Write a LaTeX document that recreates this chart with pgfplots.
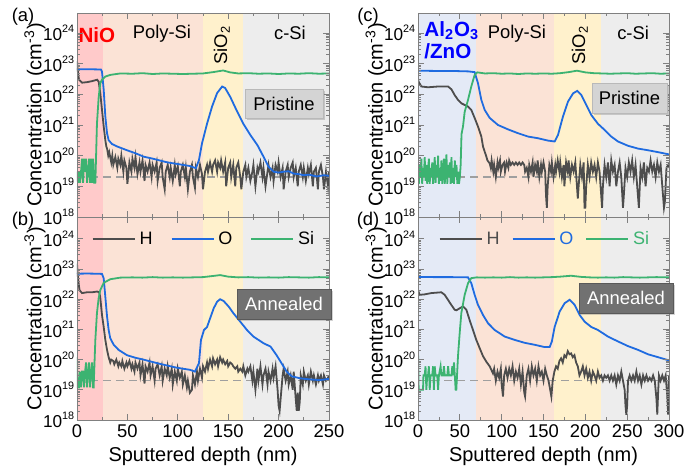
\documentclass[border=0pt]{standalone}
\usepackage{fontspec}
\setmainfont{Liberation Sans}
\usepackage{pgfplots}
\pgfplotsset{compat=1.18}
\usetikzlibrary{shadows}

\definecolor{hcol}{HTML}{4D4D4D}
\definecolor{ocol}{HTML}{1F6BE0}
\definecolor{sicol}{HTML}{3CB371}
\definecolor{niobg}{HTML}{FFCACA}
\definecolor{polybg}{HTML}{FBE3D6}
\definecolor{oxbg}{HTML}{FFF1CC}
\definecolor{csibg}{HTML}{EDEDED}
\definecolor{albg}{HTML}{E4EAF6}
\definecolor{boxlt}{HTML}{D4D4D4}
\definecolor{boxdk}{HTML}{717171}

% small raised exponent for the tick labels
\newcommand{\tsup}[1]{\raisebox{4.2pt}{\fontsize{5.4}{6}\selectfont #1}}

\pgfkeys{/pgf/number format/assume math mode=true}
\tikzset{reg/.style={font=\fontsize{9.2}{11}\selectfont}}
\pgfplotsset{
  every axis/.append style={
    scale only axis, anchor=south west,
    ymin=1e18, xmin=0,
    axis on top,
    ytick={1e18,1e19,1e20,1e21,1e22,1e23,1e24},
    yticklabels={10\tsup{18},10\tsup{19},10\tsup{20},10\tsup{21},10\tsup{22},10\tsup{23},10\tsup{24}},
    minor x tick num=1,
    axis line style={gray},
    every tick/.style={gray},
    major tick length=3pt, minor tick length=1.6pt,
    yticklabel style={font=\fontsize{8.6}{10}\selectfont, inner xsep=1.2pt},
    xticklabel style={font=\fontsize{9.2}{10}\selectfont, inner ysep=2.3pt},
    label style={font=\fontsize{9.3}{11}\selectfont},
    every axis y label/.style={at={(axis description cs:-0.167,0.5)}, rotate=90, anchor=center},
    every axis x label/.style={at={(axis description cs:0.5,0)}, anchor=center, yshift=-18.3pt},
    ylabel={Concentration (cm\textsuperscript{-3})},
    every axis plot/.append style={line width=0.9pt},
    legend image code/.code={\draw[##1] (0pt,0pt) -- (21pt,0pt);},
  },
}

\begin{document}
\begin{tikzpicture}
\useasboundingbox (0,0) rectangle (348.5pt,235pt);

% ---------------- (a) NiO pristine
\begin{axis}[ymode=log, at={(38.5pt,126.5pt)}, width=126pt, height=102pt,
  xmax=250, ymax=4.5e24, xtick={0,50,...,250}, xticklabel=\empty]
\fill[niobg] (axis cs:0,1e18) rectangle (axis cs:26,4.5e24);
\fill[polybg] (axis cs:26,1e18) rectangle (axis cs:125,4.5e24);
\fill[oxbg] (axis cs:125,1e18) rectangle (axis cs:165,4.5e24);
\fill[csibg] (axis cs:165,1e18) rectangle (axis cs:250,4.5e24);
\draw[gray!75, line width=0.6pt, dash pattern=on 4pt off 2.5pt] (axis cs:0,2e19) -- (axis cs:250,2e19);
\addplot[hcol] coordinates {
(0,1.2e23) (1,5e22) (2,3e22) (5,2.4e22) (10,2.5e22) (15,2.7e22) (20,3e22) (21.5,2.6e22) (23.1,1.1e22) (24.8,3.1e21) (26.5,8.9e20) (28.1,3.2e20) (29.1,2e20)
(30,1.6e20) (31,1e20) (32,1.3e20) (34,6e19) (35,1e20) (36,5e19) (38,9e19) (40,4e19) (41,8e19) (43,5e19) (44,1e20) (46,3e19) (47,7e19) (49,4e19) (50,1.2e19) (52,6e19) (54,3e19) (55,8e19) (57,4e19) (58,9e19) (60,2.5e19) (62,6e19) (63,3e19) (65,7e19) (67,1.5e19) (68,5e19) (70,3e19) (72,6e19) (74,2e19) (75,5e19) (77,3e19) (79,6e19) (80,1.5e19) (82,4e19) (84,6e19) (85,2e19) (87,8e18) (88,3e19) (90,5e19) (92,2e19) (93,4e19) (95,1.5e19) (97,5e19) (98,2.5e19) (100,4.5e19) (102,1e19) (103,3e19) (105,5e19) (107,2e19) (108,4e19) (110,8e18) (112,3e19) (114,5e19) (115,2e19) (117,9e18) (118,4e19) (120,2e19) (122,5e19) (124,2.5e19) (125,8e18) (127,3e19) (129,5e19) (130,3e19) (132,6e19) (134,3e19) (135,5e19) (137,7e19) (139,3e19) (140,6e19) (142,4e19) (143,7e19) (145,3e19) (147,6e19) (148,1e19) (150,4e19) (152,6e19) (153,2e19) (155,5e19) (157,1e19) (158,4e19) (160,6e19) (162,2e19) (163,8e18) (165,3e19) (167,5e19) (168,2e19) (170,4e19) (172,1.5e19) (174,3e19) (175,5e19) (177,1e19) (179,4e19) (180,3e19) (182,6e19) (184,2e19) (185,4e19) (187,1e19) (189,3e19) (190,5e19) (192,2e19) (194,4e19) (195,1.5e19) (197,5e19) (199,3e19) (200,6e19) (202,2e19) (204,4e19) (205,8e18) (207,3e19) (209,5e19) (210,2e19) (212,4e19) (214,6e19) (215,2e19) (217,4e19) (219,1e19) (220,3e19) (222,5e19) (224,2e19) (225,4e19) (227,1.5e19) (229,4e19) (230,2.5e19) (232,5e19) (234,1e19) (235,3e19) (237,4e19) (239,8e18) (240,3e19) (242,5e19) (244,2e19) (245,8e18) (247,3e19) (249,1e19) (250,3e19)
};
\addplot[ocol] coordinates {
(0,6.6e22) (10,6.6e22) (20,6.5e22) (23.8,6.4e22) (24.8,5.5e22) (26.5,1.4e22) (28.1,1.9e21) (29.8,5.4e20) (31.4,3.2e20) (34.7,2.4e20) (39.7,2e20) (49.6,1.5e20) (58,1.2e20) (66,9.3e19) (75,8e19) (82.7,6.9e19) (90,6e19) (99,5.4e19) (105,5e19) (112,4.6e19) (118,3.9e19) (121,7.2e19) (124,2.5e20) (129,1.1e21) (134,4e21) (139,1.1e22) (144,1.8e22) (147,1.6e22) (152,8.3e21) (159,2.7e21) (165,1.1e21) (172,4.7e20) (179,2.2e20) (185,9.3e19) (190,4.4e19) (195,3e19) (200,2.8e19) (205,3e19) (210,3.1e19) (215,2.6e19) (220,2.5e19) (225,2.3e19) (230,2.4e19) (238,2.1e19) (245,2.3e19) (250,2.2e19)
};
\addplot[sicol] coordinates {
(0,3e19) (1,1.3e19) (2,3e19) (3,1.3e19) (4,3e19) (5,8e19) (6,1.3e19) (7,8e19) (8,3e19) (9,8e19) (10,1.3e19) (11,3e19) (12,8e19) (13,1.3e19) (14,8e19) (15,1.3e19) (16,8e19) (17,1.3e19) (18.2,1.3e19) (19.8,1.1e21) (21.5,8e21) (23.1,2.3e22) (24.8,3e22) (28.1,3.8e22) (33,4.3e22) (43,4.8e22) (55,4.7e22) (65,4.9e22) (75,4.6e22) (85,4.8e22) (95,4.7e22) (105,4.6e22) (115,4.7e22) (125,4.8e22) (135,5.3e22) (145,6e22) (152,5.2e22) (160,4.8e22) (170,4.9e22) (180,4.7e22) (190,4.8e22) (200,4.6e22) (210,4.8e22) (220,4.7e22) (230,4.9e22) (240,4.7e22) (250,4.8e22)
};
\node[red, font=\fontsize{10.3}{12}\selectfont\bfseries] at (rel axis cs:0.079,0.89) {NiO};
\node[reg] at (rel axis cs:0.337,0.90) {Poly-Si};
\node[reg, rotate=90] at (rel axis cs:0.575,0.843) {SiO\textsubscript{2}};
\node[reg] at (rel axis cs:0.845,0.90) {c-Si};
\end{axis}

% ---------------- (b) NiO annealed
\begin{axis}[ymode=log, at={(38.5pt,25pt)}, width=126pt, height=101.5pt,
  xmax=250, ymax=5.3e24, xtick={0,50,...,250},
  xlabel={Sputtered depth (nm)},
  legend style={at={(0.508,0.89)}, anchor=center, draw=none, fill=none,
    font=\fontsize{9}{10}\selectfont,
    legend columns=-1, /tikz/every even column/.append style={column sep=7pt}},
  legend entries={H,O,Si}]
\fill[niobg] (axis cs:0,1e18) rectangle (axis cs:26,5.3e24);
\fill[polybg] (axis cs:26,1e18) rectangle (axis cs:125,5.3e24);
\fill[oxbg] (axis cs:125,1e18) rectangle (axis cs:165,5.3e24);
\fill[csibg] (axis cs:165,1e18) rectangle (axis cs:250,5.3e24);
\draw[gray!75, line width=0.6pt, dash pattern=on 4pt off 2.5pt] (axis cs:0,2e19) -- (axis cs:250,2e19);
\addplot[hcol] coordinates {
(0,1.5e23) (1,5e22) (2.5,2e22) (5,1.6e22) (10,1.7e22) (15,1.7e22) (20,1.8e22) (22,1.7e22) (23,1.2e22) (24.8,3e21) (26.5,1.2e21) (28.1,4.5e20) (29.8,2.1e20) (31.4,1.2e20) (33,8e19) (34,1e20) (36,9e19) (37,7e19) (39,1e20) (41,6e19) (42,8e19) (44,6e19) (45,9e19) (47,5e19) (49,8e19) (50,6e19) (52,9e19) (54,5e19) (55,7e19) (57,4e19) (58,8e19) (60,5e19) (62,8e19) (63,3e19) (65,7e19) (67,1.6e19) (68,6e19) (70,4e19) (72,8e19) (73,3e19) (75,6e19) (77,2e19) (78,5e19) (80,7e19) (82,3e19) (84,6e19) (85,2e19) (87,5e19) (89,3e19) (90,6e19) (92,2.5e19) (94,5e19) (95,1.5e19) (97,4e19) (99,2e19) (100,5e19) (102,2.5e19) (104,4e19) (105,1.5e19) (107,3e19) (109,1.2e19) (110,2e19) (112,8e18) (114,1e19) (115,3e19) (117,1.5e19) (119,4e19) (120,2e19) (122,5e19) (124,2.5e19) (125,6e19) (127,4e19) (129,8e19) (130,5e19) (132,1e20) (134,6e19) (135,1.1e20) (137,7e19) (139,1e20) (140,6e19) (142,1.2e20) (144,8e19) (145,1e20) (147,7e19) (149,9e19) (150,6e19) (152,8e19) (154,7e19) (155,6e19) (157,5e19) (159,6e19) (160,4e19) (162,5e19) (164,4e19) (165,6e19) (167,3e19) (169,5e19) (170,4e19) (172,6e19) (174,2e19) (175,4e19) (177,1e19) (179,5e19) (180,2e19) (182,6e19) (184,1.5e19) (185,3e19) (187,5e19) (189,1.5e19) (190,4e19) (192,2e19) (194,5e19) (195,2.5e19) (197,6e19) (199,1e19) (200,3e18) (201,2e18) (202,5e18) (204,3e19) (205,5e19) (207,2e19) (209,4e19) (210,1.5e19) (212,3e19) (214,1e19) (215,4e19) (217,5e18) (218,2e18) (219,8e18) (220,2e18) (221,4e18) (222,3e19) (224,1.5e19) (225,4e19) (227,2e19) (229,3e19) (230,1.5e19) (232,4e19) (234,2e19) (235,3e19) (237,1.5e19) (239,3e19) (240,2e19) (242,3e19) (244,1.5e19) (245,3e19) (247,2e19) (249,2.5e19) (250,3e19)
};
\addplot[ocol] coordinates {
(0,7e22) (10,7.1e22) (20,7e22) (24.8,6.9e22) (26.5,4.9e22) (28.1,1.2e22) (29.8,2.7e21) (31.4,9.6e20) (33,5.1e20) (36.4,3.1e20) (41.3,2.1e20) (49.6,1.4e20) (58,1.15e20) (66,1e20) (74,8.5e19) (82.7,7.2e19) (90,6.3e19) (99,5.4e19) (105,5e19) (112,4.6e19) (117,4e19) (121,7.6e19) (123,4.5e20) (126,9.6e20) (129,1.2e21) (132,2.3e21) (135.6,5e21) (139,8.3e21) (142,1e22) (145.5,8.7e21) (150.5,5.7e21) (155,3.5e21) (162,1.8e21) (168.6,9.6e20) (175,5.8e20) (185,3.5e20) (192,2.7e20) (198,1.4e20) (203,7.5e19) (208,4e19) (213,2.8e19) (221.5,2.4e19) (231.5,2.2e19) (241,2.1e19) (250,2.3e19)
};
\addplot[sicol] coordinates {
(0,1.2e20) (0.7,1.2e19) (2,1.2e19) (3,4e19) (4,1.2e19) (5,4e19) (6,4e19) (7,1.2e19) (8,4e19) (9,8e19) (10,1.2e19) (11,4e19) (12,8e19) (13,1.2e19) (14,4e19) (15,8e19) (16,1.2e19) (16.5,1.2e19) (18.2,4.5e20) (19.8,3.5e21) (21.5,1.1e22) (23.1,2e22) (26.5,3.5e22) (33,4.6e22) (43,5.2e22) (55,5.3e22) (65,5.2e22) (75,5.4e22) (85,5.2e22) (95,5.3e22) (105,5.2e22) (115,5.3e22) (125,5.4e22) (135,5.9e22) (142,6.3e22) (150,5.6e22) (160,5.3e22) (170,5.4e22) (180,5.2e22) (190,5.3e22) (200,5.2e22) (210,5.4e22) (220,5.3e22) (230,5.2e22) (240,5.4e22) (250,5.3e22)
};
\end{axis}

% ---------------- (c) Al2O3/ZnO pristine
\begin{axis}[ymode=log, at={(209pt,126.5pt)}, width=125.5pt, height=102pt,
  xmax=300, ymax=4.5e24, xtick={0,50,...,300}, xticklabel=\empty]
\fill[albg] (axis cs:0,1e18) rectangle (axis cs:69,4.5e24);
\fill[polybg] (axis cs:69,1e18) rectangle (axis cs:162,4.5e24);
\fill[oxbg] (axis cs:162,1e18) rectangle (axis cs:219,4.5e24);
\fill[csibg] (axis cs:219,1e18) rectangle (axis cs:300,4.5e24);
\draw[gray!75, line width=0.6pt, dash pattern=on 4pt off 2.5pt] (axis cs:0,2e19) -- (axis cs:300,2e19);
\addplot[hcol] coordinates {
(0,3e22) (1,2.5e22) (4,1.8e22) (12,1.7e22) (24,1.8e22) (36,1.8e22) (40,1.45e22) (43.8,9.5e21) (47.8,6.6e21) (51.8,5.1e21) (55.8,4.5e21) (59.8,4e21) (63.7,3.1e21) (67.7,1.7e21) (71.7,8.9e20) (75.7,4.2e20) (77.7,2e20) (79.7,1.35e20) (81.7,9.3e19) (83,7e19) (85.7,5.6e19) (87,4e19) (88,7e19) (90,3e19) (91,5e19) (93,2e19) (95,6e19) (96,4e19) (98,7e19) (99,3e19) (101,5e19) (103,6e19) (104,3e19) (106,6e19) (108,4e19) (109,7e19) (111,5e19) (113,6e19) (115,5e19) (117,6e19) (119,5e19) (121,6e19) (123,5e19) (125,6e19) (127,5e19) (128,3e19) (130,4e19) (132,2e19) (133,5e19) (135,3e19) (137,6e19) (138,2e19) (140,5e19) (142,3e19) (143,7e19) (145,2e19) (147,5e19) (148,3e19) (150,6e19) (152,3e19) (153,5e18) (154,2e18) (155,1e19) (157,5e19) (159,3e19) (160,6e19) (162,2e19) (164,5e19) (165,3e19) (167,7e19) (169,3e19) (170,6e19) (172,2e19) (174,5e19) (175,1e19) (177,6e19) (179,3e19) (180,7e19) (182,2e19) (184,5e19) (186,3e19) (188,6e19) (190,1e19) (191,4e18) (192,1e19) (194,5e19) (196,2e19) (198,6e19) (199,2e18) (200,2e18) (201,1e19) (203,5e19) (205,2e19) (207,6e19) (209,3e19) (211,5e19) (213,2e19) (215,6e19) (217,3e19) (219,5e18) (220,2e18) (221,1e19) (223,5e19) (225,2e19) (227,6e19) (229,1e19) (231,7e19) (233,3e19) (235,5e19) (237,1e19) (239,3e19) (241,6e19) (243,2e19) (245,2e18) (246,5e18) (248,4e19) (250,2e19) (252,6e19) (254,3e19) (256,7e19) (258,2e19) (260,5e19) (262,1e19) (264,2e18) (266,4e19) (268,2e19) (270,6e19) (272,1e19) (274,4e19) (276,3e19) (278,7e19) (280,3e19) (282,5e19) (284,2e19) (286,6e19) (288,3e19) (290,5e19) (292,1e19) (294,2e18) (295,3e18) (297,4e19) (299,5e19) (300,4e19)
};
\addplot[ocol] coordinates {
(0,5.9e22) (20,5.8e22) (40,5.8e22) (60,5.6e22) (67.7,5.3e22) (71.7,2.3e22) (75.7,6.6e21) (79.7,3.1e21) (85.7,1.7e21) (95.6,1e21) (107.6,7.2e20) (119.5,5.4e20) (131.5,4.2e20) (143.4,3.7e20) (155.4,3.1e20) (163.3,2.9e20) (167.3,4.7e20) (173.3,1.9e21) (179.3,5.8e21) (185.3,1.07e22) (190.4,1.3e22) (195.2,9.5e21) (201.2,4.5e21) (207.2,2.1e21) (215,1.1e21) (223,6.9e20) (231,4.2e20) (239,2.9e20) (251,2.1e20) (263,1.7e20) (275,1.5e20) (287,1.3e20) (300,1.1e20)
};
\addplot[sicol] coordinates {
(0,3e19) (1,1.2e19) (2,5e19) (3,2e19) (4,8e19) (5,1.2e19) (6,4e19) (7,2e19) (8,9e19) (9,1.5e19) (10,5e19) (11,1.2e19) (12,3e19) (13,8e19) (14,1.2e19) (15,4e19) (16,2e19) (17,6e19) (18,1.2e19) (19,3e19) (20,9e19) (21,1.3e19) (22,5e19) (23,2e19) (24,1e20) (25,1.2e19) (26,4e19) (27,1.5e19) (28,7e19) (29,1.2e19) (30,3e19) (31,8e19) (32,1.2e19) (33,4e19) (34,1.1e20) (35,1.2e19) (36,5e19) (37,2e19) (38,6e19) (39,1.2e19) (40,9e19) (41,1.3e19) (42,4e19) (43,1.2e19) (44,7e19) (45,2e19) (46,5e19) (47,1.2e19) (48,3e19) (49,1.2e19) (50,2e19) (51,5e19) (52,5e20) (53.8,9e20) (55.8,2.7e21) (59.8,6.6e21) (63.7,1.8e22) (67.7,4.3e22) (70.9,5.2e22) (80,4.8e22) (90,4.9e22) (100,4.7e22) (110,4.8e22) (120,4.6e22) (130,4.8e22) (140,4.7e22) (150,4.8e22) (160,4.7e22) (170,4.9e22) (180,5.3e22) (190,5.9e22) (200,5.2e22) (210,4.9e22) (220,4.8e22) (230,4.7e22) (240,4.8e22) (250,4.9e22) (260,4.7e22) (270,4.8e22) (280,4.9e22) (290,4.7e22) (300,4.8e22)
};
\node[blue, font=\fontsize{10.3}{12}\selectfont\bfseries, anchor=west, inner sep=0pt] at (rel axis cs:0.024,0.912) {Al\textsubscript{2}O\textsubscript{3}};
\node[blue, font=\fontsize{10.3}{12}\selectfont\bfseries, anchor=west, inner sep=0pt] at (rel axis cs:0.024,0.814) {/ZnO};
\node[reg] at (rel axis cs:0.394,0.90) {Poly-Si};
\node[reg, rotate=90] at (rel axis cs:0.645,0.843) {SiO\textsubscript{2}};
\node[reg] at (rel axis cs:0.857,0.90) {c-Si};
\end{axis}

% ---------------- (d) Al2O3/ZnO annealed
\begin{axis}[ymode=log, at={(209pt,25pt)}, width=125.5pt, height=101.5pt,
  xmax=300, ymax=5.3e24, xtick={0,50,...,300},
  xlabel={Sputtered depth (nm)},
  legend style={at={(0.51,0.89)}, anchor=center, draw=none, fill=none,
    font=\fontsize{9}{10}\selectfont,
    legend columns=-1, /tikz/every even column/.append style={column sep=4pt}},
  legend entries={\textcolor{hcol}{H},\textcolor{ocol}{O},\textcolor{sicol}{Si}}]
\fill[albg] (axis cs:0,1e18) rectangle (axis cs:69,5.3e24);
\fill[polybg] (axis cs:69,1e18) rectangle (axis cs:162,5.3e24);
\fill[oxbg] (axis cs:162,1e18) rectangle (axis cs:219,5.3e24);
\fill[csibg] (axis cs:219,1e18) rectangle (axis cs:300,5.3e24);
\draw[gray!75, line width=0.6pt, dash pattern=on 4pt off 2.5pt] (axis cs:0,2e19) -- (axis cs:300,2e19);
\addplot[hcol] coordinates {
(0,2e22) (2,1.4e22) (8,1.45e22) (16,1.6e22) (27.9,1.7e22) (31.9,1.4e22) (35.9,9.5e21) (39.8,6.5e21) (43.8,4.5e21) (45.8,4.3e21) (49.8,5e21) (53.8,5.8e21) (57.8,4.5e21) (61.8,2e21) (65.7,9.6e20) (69.7,4.5e20) (73.7,2.4e20) (77.7,1.3e20) (81.7,8.5e19) (85.7,6e19) (89.6,3.5e19) (91,5e19) (93,2e19) (95,4e19) (97,2.5e19) (99,5e19) (100,1.5e19) (101.6,6e18) (103,3e19) (105,5e19) (107,2.5e19) (109,5e19) (111,3e19) (113,6e19) (115,2e19) (117,4e19) (119,2.5e19) (121,5e19) (123,1.5e19) (125,4e19) (127,8e18) (128,6e18) (130,3e19) (132,5e19) (134,2e19) (136,6e19) (138,3e19) (140,5e19) (142,2e19) (144,6e19) (146,3e19) (148,4e19) (150,2e19) (152,5e19) (154,3e19) (156,2e19) (158,1e19) (159.4,6e18) (161,2e19) (163,4e19) (165,6e19) (167,5e19) (169,9e19) (171,1.1e20) (173,8e19) (175,1.4e20) (177,1.2e20) (179,1.9e20) (181,1.5e20) (183,1.6e20) (185,1.2e20) (187,1.4e20) (189,8e19) (191,6e19) (193,3e19) (195,4e19) (197,6e19) (199,3e19) (201,5e19) (203,2.5e19) (205,4e19) (207,2e19) (209,4e19) (211,3e19) (213,2e19) (215,4e19) (217,2.5e19) (219,3e19) (221,2e19) (223,3e19) (225,2.5e19) (227,3e19) (229,2e19) (231,3e19) (233,2e19) (235,3e19) (237,1.5e19) (239,3e19) (241,2e19) (243,4e19) (245,2e19) (247,1e19) (248,3e18) (249,1.5e18) (250,3e18) (251,2e19) (253,3e19) (255,2e19) (257,3e19) (259,2e19) (261,4e19) (263,2e19) (265,3e19) (267,1.5e19) (269,3e19) (271,2e19) (273,3e19) (275,2e19) (277,2.5e19) (279,2e19) (281,3e19) (283,2e19) (285,5e18) (286,1.5e18) (287,8e18) (288,3e19) (290,2e19) (292,3e19) (294,2e19) (296,3e19) (298,6e18) (299,1.5e18) (300,3e19)
};
\addplot[ocol] coordinates {
(0,5.5e22) (20,5.4e22) (40,5.4e22) (59.8,5.3e22) (63.7,3.4e22) (67.7,1.4e22) (71.7,6.5e21) (77.7,3e21) (83.7,1.6e21) (91.6,9.6e20) (103.6,5.8e20) (115.5,4.5e20) (127.5,3.6e20) (139.4,3.1e20) (151.4,2.6e20) (157.4,2.6e20) (160,4e20) (163.3,1.2e21) (169.3,3.9e21) (175.3,7.4e21) (181.3,9.6e21) (187.2,6.5e21) (193.2,3e21) (199.2,1.8e21) (207.2,1.2e21) (215,9.6e20) (227,5.8e20) (239,4e20) (251,2.8e20) (263,2.1e20) (275,1.5e20) (287,1.2e20) (300,9.4e19)
};
\addplot[sicol] coordinates {
(0,2.1e20) (0.8,1e19) (3,1e19) (6,1e19) (6.5,3e19) (8,3e19) (9,6e19) (10,1e19) (11,3e19) (12,3e19) (13,6e19) (14,1e19) (15,3e19) (17,3e19) (18,6e19) (19,1e19) (20,6e19) (21,3e19) (23,3e19) (24,1e19) (25,3e19) (27,6e19) (28,3e19) (30,3e19) (31,6e19) (32,3e19) (35,3e19) (36,6e19) (37,3e19) (40,3e19) (41,6e19) (42,3e19) (43,8e19) (44,3e19) (45,1e19) (45.8,1e19) (47.8,1.3e20) (49.8,7.4e20) (51.8,3.5e21) (55.8,1.4e22) (59.8,3.4e22) (63.7,5e22) (70,5.3e22) (80,5.2e22) (90,5.3e22) (100,5.2e22) (110,5.4e22) (120,5.2e22) (130,5.3e22) (140,5.2e22) (150,5.3e22) (160,5.4e22) (170,5.6e22) (183,6e22) (195,5.5e22) (205,5.3e22) (215,5.2e22) (225,5.3e22) (235,5.2e22) (245,5.4e22) (255,5.3e22) (265,5.2e22) (275,5.3e22) (285,5.4e22) (300,5.3e22)
};
\end{axis}

% boxes and panel letters
\node[fill=boxlt, draw=gray!55, minimum width=39pt, minimum height=14.5pt, inner sep=0pt,
  drop shadow={shadow xshift=0.8pt, shadow yshift=-0.8pt, opacity=0.35}, reg] at (142pt,183.25pt) {Pristine};
\node[fill=boxlt, draw=gray!55, minimum width=37.5pt, minimum height=15pt, inner sep=0pt,
  drop shadow={shadow xshift=0.8pt, shadow yshift=-0.8pt, opacity=0.35}, reg] at (314.75pt,186pt) {Pristine};
\node[fill=boxdk, draw=black!65, text=white, minimum width=47pt, minimum height=15pt, inner sep=0pt,
  drop shadow={shadow xshift=0.8pt, shadow yshift=-0.8pt, opacity=0.35}, reg] at (142pt,83pt) {Annealed};
\node[fill=boxdk, draw=black!65, text=white, minimum width=47pt, minimum height=15pt, inner sep=0pt,
  drop shadow={shadow xshift=0.8pt, shadow yshift=-0.8pt, opacity=0.35}, reg] at (313pt,86pt) {Annealed};
\node[font=\fontsize{9.2}{11}\selectfont] at (11.5pt,226.75pt) {(a)};
\node[font=\fontsize{9.2}{11}\selectfont] at (11.5pt,124.5pt) {(b)};
\node[font=\fontsize{9.2}{11}\selectfont] at (184pt,226.75pt) {(c)};
\node[font=\fontsize{9.2}{11}\selectfont] at (184pt,124.5pt) {(d)};
\end{tikzpicture}
\end{document}
